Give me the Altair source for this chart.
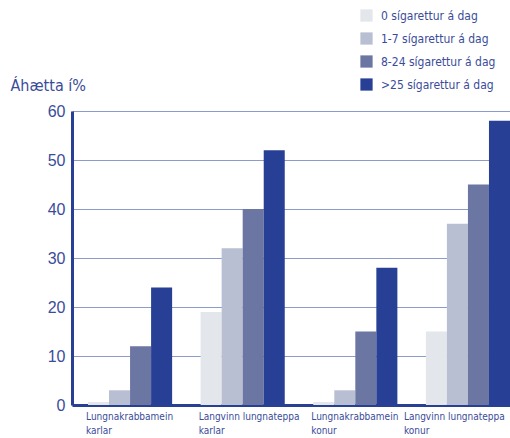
import altair as alt
import pandas as pd

groups = ["Lungnakrabbamein\nkarlar", "Langvinn lungnateppa\nkarlar",
          "Lungnakrabbamein\nkonur", "Langvinn lungnateppa\nkonur"]
series = ["0 sígarettur á dag", "1-7 sígarettur á dag",
          "8-24 sígarettur á dag", ">25 sígarettur á dag"]
vals_0 = [0.6, 19, 0.6, 15]
vals_1_7 = [3, 32, 3, 37]
vals_8_24 = [12, 40, 15, 45]
vals_25 = [24, 52, 28, 58]
colors = ["#e3e6eb", "#b9bfd2", "#6b76a3", "#273f94"]
yticks = [0, 10, 20, 30, 40, 50, 60]

rows = []
for s, vs in zip(series, [vals_0, vals_1_7, vals_8_24, vals_25]):
    for g, v in zip(groups, vs):
        rows.append({"group": g, "series": s, "value": v})
df = pd.DataFrame(rows)

TXT = "#3a4c99"
FONT = "DejaVu Sans Condensed, sans-serif"

last_test = "datum.value == '" + groups[-1].replace("\n", "\\n") + "'"

chart = alt.Chart(df).mark_bar().encode(
    x=alt.X("group:N", sort=groups,
            scale=alt.Scale(paddingInner=0.253, paddingOuter=0.071, align=1),
            axis=alt.Axis(title=None, labelAngle=0, labelAlign="left", labelBaseline="top",
                          labelOffset={"condition": {"test": last_test, "value": -64},
                                       "value": -44},
                          labelPadding=6, ticks=False,
                          labelExpr="split(datum.label, '\\n')",
                          labelFont=FONT, labelFontSize=10, labelColor=TXT,
                          labelLineHeight=14,
                          domainColor="#273f94", domainWidth=3)),
    xOffset=alt.XOffset("series:N", sort=series,
                        scale=alt.Scale(paddingInner=0, paddingOuter=0)),
    y=alt.Y("value:Q", scale=alt.Scale(domain=[0, 60], nice=False),
            axis=alt.Axis(values=yticks, title="Áhætta í%", titleAngle=0,
                          titleAlign="left", titleBaseline="middle",
                          titleX=-62, titleY=-26, titleFont=FONT, titleFontSize=16,
                          titleFontWeight="normal", titleColor=TXT,
                          labelFont="Liberation Sans", labelFontSize=16, labelColor=TXT,
                          labelPadding=7, ticks=False,
                          domainColor="#273f94", domainWidth=3,
                          gridColor="#8d9bcb", gridWidth=1)),
    color=alt.Color("series:N", sort=series,
                    scale=alt.Scale(domain=series, range=colors),
                    legend=alt.Legend(title=None, orient="none", legendX=288, legendY=-102,
                                      symbolType="square", symbolSize=150,
                                      symbolStrokeWidth=0, symbolOpacity=1,
                                      labelFont=FONT, labelFontSize=12, labelColor=TXT,
                                      labelOffset=8, rowPadding=10, padding=0)),
).properties(
    width=438, height=294,
    autosize=alt.AutoSizeParams(type="none"),
    padding={"left": 72, "top": 111, "right": 0, "bottom": 33},
).configure_view(stroke=None).configure_axis(gridOpacity=1)

chart.save("out.html", embed_options={"renderer": "svg", "actions": False})
